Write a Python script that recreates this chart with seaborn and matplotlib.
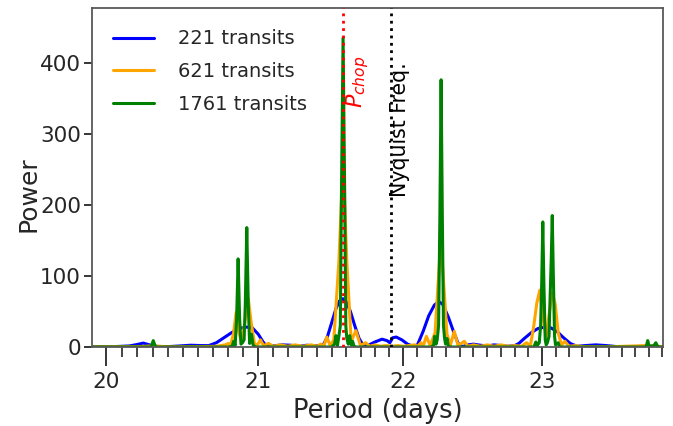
import numpy as np
import pandas as pd
import matplotlib
matplotlib.use("Agg")
import matplotlib.pyplot as plt
from matplotlib.ticker import FixedLocator, FixedFormatter, NullFormatter
import seaborn as sns

# ---------------- data ----------------
blue_period = [19.92, 20.05, 20.15, 20.20, 20.24, 20.28, 20.33, 20.40, 20.48, 20.55,
               20.62, 20.67, 20.72, 20.77, 20.82, 20.87, 20.92, 20.96, 21.00, 21.03,
               21.055, 21.10, 21.16, 21.22, 21.28, 21.33, 21.38, 21.44, 21.47, 21.50,
               21.53, 21.555, 21.578, 21.60, 21.63, 21.66, 21.69, 21.72, 21.76, 21.80,
               21.85, 21.885, 21.905, 21.925, 21.95, 21.99, 22.03, 22.07, 22.10, 22.14,
               22.18, 22.22, 22.25, 22.28, 22.32, 22.36, 22.39, 22.42, 22.46, 22.50,
               22.55, 22.60, 22.65, 22.70, 22.75, 22.80, 22.83, 22.87, 22.92, 22.97,
               23.02, 23.06, 23.11, 23.16, 23.21, 23.26, 23.32, 23.40, 23.48, 23.56,
               23.70, 23.92]
blue_power = [0.5, 0.5, 1.5, 3.5, 5.5, 3, 0.8, 0.5, 1.5, 2.5,
              2, 2, 6, 13, 20, 26, 28, 27, 18, 8,
              1, 1.5, 3, 2.5, 1, 2.5, 1.5, 2, 14, 34,
              54, 65, 68, 64, 50, 30, 12, 2, 3, 7,
              11, 9, 6, 13, 14, 10, 4, 1, 3, 22,
              44, 59, 64, 60, 42, 20, 5, 0.5, 3, 4,
              2.5, 1.5, 3, 2, 1, 2, 5, 12, 20, 26,
              28, 27.5, 22, 13, 5, 1, 2, 3, 2, 0.5,
              0.3, 0.3]

orange_period = [19.92, 20.20, 20.30, 20.40, 20.60, 20.72, 20.78, 20.80, 20.815, 20.835,
                 20.852, 20.868, 20.89, 20.91, 20.933, 20.952, 20.975, 20.995, 21.015, 21.035,
                 21.07, 21.10, 21.15, 21.20, 21.25, 21.30, 21.36, 21.40, 21.425, 21.445,
                 21.467, 21.49, 21.515, 21.55, 21.579, 21.605, 21.635, 21.668, 21.70, 21.735,
                 21.765, 21.80, 21.84, 21.88, 21.92, 21.96, 22.00, 22.04, 22.08, 22.10,
                 22.125, 22.14, 22.163, 22.19, 22.225, 22.25, 22.266, 22.283, 22.31, 22.335,
                 22.362, 22.39, 22.434, 22.46, 22.50, 22.55, 22.60, 22.65, 22.70, 22.75,
                 22.80, 22.85, 22.885, 22.915, 22.94, 22.962, 22.984, 23.005, 23.03, 23.052,
                 23.076, 23.098, 23.12, 23.145, 23.17, 23.20, 23.25, 23.30, 23.50, 23.78,
                 23.92]
orange_power = [0.3, 0.5, 1.5, 0.3, 0.5, 1, 3, 5, 2, 20,
                49, 22, 6, 35, 68, 35, 4, 3, 10, 2,
                5, 1, 3, 1, 3, 1, 3, 1, 4, 1,
                14, 2, 10, 120, 260, 120, 8, 23, 2, 6,
                1, 3, 1, 2, 1, 2, 1, 2, 3, 1,
                6, 1, 15, 2, 20, 100, 150, 100, 18, 3,
                22, 2, 8, 1, 3, 1, 3, 1, 3, 1,
                2, 1, 6, 2, 30, 62, 80, 45, 14, 45,
                76, 60, 20, 3, 8, 1, 2, 0.5, 0.3, 2,
                0.3]

green_period = [19.92, 20.29, 20.297, 20.305, 20.313, 20.32, 20.80, 20.825, 20.835, 20.845,
                20.855, 20.865, 20.875, 20.884, 20.894, 20.905, 20.913, 20.923, 20.933, 20.942,
                20.955, 20.965, 20.98, 21.50, 21.52, 21.53, 21.54, 21.55, 21.56, 21.567,
                21.579, 21.591, 21.598, 21.605, 21.615, 21.625, 21.635, 21.645, 21.655, 21.67,
                22.20, 22.215, 22.222, 22.232, 22.24, 22.25, 22.259, 22.268, 22.277, 22.285,
                22.293, 22.30, 22.31, 22.32, 22.34, 22.94, 22.955, 22.965, 22.98, 22.99,
                22.998, 23.006, 23.014, 23.024, 23.031, 23.04, 23.052, 23.06, 23.068, 23.076,
                23.084, 23.093, 23.10, 23.12, 23.13, 23.78, 23.786, 23.793, 23.80, 23.81,
                23.84, 23.855, 23.865, 23.88, 23.92]
green_power = [0, 0, 4, 9, 4, 0, 0, 1, 8, 2,
               40, 124, 40, 4, 6, 10, 60, 168, 60, 5,
               18, 3, 0, 0, 4, 16, 2, 15, 30, 200,
               435, 200, 30, 12, 4, 16, 3, 8, 1, 0,
               0, 3, 15, 4, 10, 30, 180, 376, 180, 30,
               12, 4, 12, 1, 0, 0, 7, 2, 6, 30,
               90, 176, 90, 10, 3, 6, 15, 70, 120, 185,
               100, 15, 3, 6, 0, 0, 4, 9, 4, 1,
               2, 6, 2, 0, 0]

series_labels = ["221 transits", "621 transits", "1761 transits"]
series_colors = ["blue", "orange", "green"]

p_chop = 21.579
nyquist = 21.913

major_ticks = [20, 21, 22, 23]
major_labels = ["20", "21", "22", "23"]
minor_ticks = [round(19.9 + 0.1 * i, 1) for i in range(41)]
y_ticks = [0, 100, 200, 300, 400]

# ---------------- plot ----------------
sns.set_style("ticks")
plt.rcParams["font.family"] = ["DejaVu Sans"]
plt.rcParams["text.color"] = "0.15"
plt.rcParams["axes.labelcolor"] = "0.15"

fig = plt.figure(figsize=(6.73, 4.26), dpi=100)
ax = fig.add_axes([92 / 673, 1 - 347 / 426, (663 - 92) / 673, (347 - 8) / 426])

data = [(blue_period, blue_power), (orange_period, orange_power), (green_period, green_power)]
for (per, pw), lab, col in zip(data, series_labels, series_colors):
    df = pd.DataFrame({"period": per, "power": pw})
    sns.lineplot(data=df, x="period", y="power", color=col, lw=2.2, label=lab,
                 ax=ax, sort=False, estimator=None)

ax.axvline(p_chop, color="red", ls=":", lw=2, zorder=5)
ax.axvline(nyquist, color="black", ls=":", lw=2, zorder=5)

ax.text(p_chop + 0.01, 336, r"$P_{chop}$", rotation=90, color="red", fontsize=16,
        ha="left", va="bottom")
ax.text(nyquist - 0.004, 211, "Nyquist Freq.", rotation=90, color="black", fontsize=14.8,
        ha="left", va="bottom")

ax.set_xscale("log")
ax.set_xlim(19.91, 23.91)
ax.set_ylim(0, 477)
ax.xaxis.set_major_locator(FixedLocator(major_ticks))
ax.xaxis.set_major_formatter(FixedFormatter(major_labels))
ax.xaxis.set_minor_locator(FixedLocator(minor_ticks))
ax.xaxis.set_minor_formatter(NullFormatter())
ax.set_yticks(y_ticks)

ax.tick_params(axis="x", which="major", length=14, width=1.3, labelsize=15.5, pad=4,
               color="0.15", labelcolor="0.15")
ax.tick_params(axis="x", which="minor", length=7, width=1.2, color="0.15")
ax.tick_params(axis="y", which="major", length=6, width=1.3, labelsize=15.5, pad=2,
               color="0.15", labelcolor="0.15")

for s in ax.spines.values():
    s.set_visible(True)
    s.set_color("0.35")
    s.set_linewidth(1.3)

ax.set_xlabel("Period (days)", fontsize=18.5)
ax.set_ylabel("Power", fontsize=18)
ax.yaxis.set_label_coords(-0.09, 0.45)

leg = ax.legend(loc="upper left", frameon=False, fontsize=14, handlelength=2.1,
                handletextpad=1.2, labelspacing=0.7, borderaxespad=0.7)
for line in leg.get_lines():
    line.set_linewidth(2.2)

fig.savefig("out.png", dpi=100)
